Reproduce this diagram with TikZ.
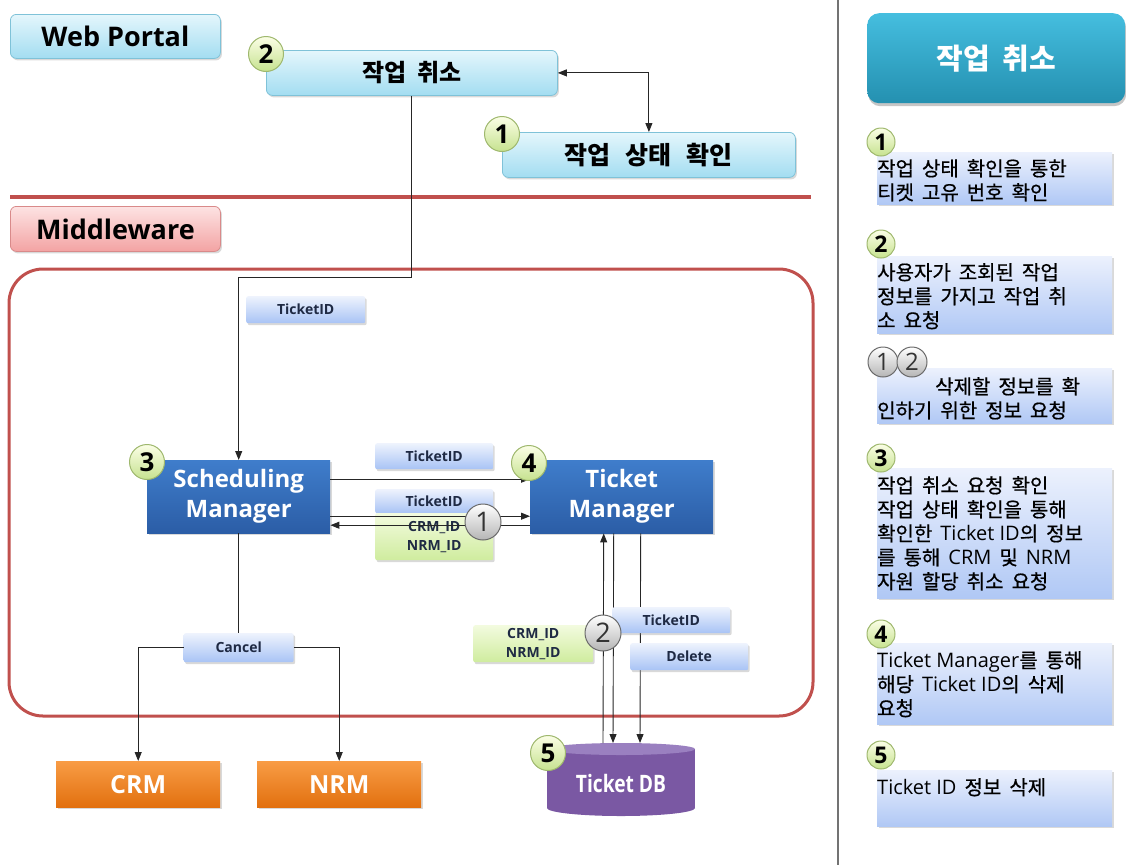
\documentclass[tikz,border=0pt]{standalone}
\usepackage{fontspec}
\setmainfont{Open Sans}
\newfontfamily\krf{Noto Sans CJK KR}
\newfontfamily\krm{Noto Sans CJK KR}[FakeBold=0.6]
\newfontfamily\dbf{Open Sans}[FakeStretch=0.8]
\usetikzlibrary{shadows,arrows.meta}

% Korean text with wider word spaces
\newcommand\kor{\krf\spaceskip=0.45em plus 0.1em\relax}
\newcommand\korwide{\krf\spaceskip=0.6em plus 0.1em\relax}
\newcommand\korstep{\krm\spaceskip=0.4em plus 0.1em\relax}
% Latin words inside Korean lines
\newcommand\latn[1]{{\rmfamily\spaceskip=0pt\relax #1}}

\definecolor{webtop}{HTML}{E4F6FC}
\definecolor{webbot}{HTML}{A3DDF1}
\definecolor{webline}{HTML}{7FC2D8}
\definecolor{mwtop}{HTML}{FDE3E3}
\definecolor{mwbot}{HTML}{F3A3A3}
\definecolor{mwline}{HTML}{D98A8A}
\definecolor{redline}{HTML}{C0504D}
\definecolor{mgrtop}{HTML}{3F7DCB}
\definecolor{mgrbot}{HTML}{2B5DA6}
\definecolor{msgtop}{HTML}{EEF3FD}
\definecolor{msgbot}{HTML}{A8C3F5}
\definecolor{msgtext}{HTML}{1F2A44}
\definecolor{idtop}{HTML}{F3FBDF}
\definecolor{idbot}{HTML}{CFEC9E}
\definecolor{orgtop}{HTML}{F89C45}
\definecolor{orgbot}{HTML}{E2700F}
\definecolor{dbbody}{HTML}{7A58A3}
\definecolor{dbcap}{HTML}{9A80C0}
\definecolor{hdtop}{HTML}{45BEDF}
\definecolor{hdbot}{HTML}{2490B0}
\definecolor{steptop}{HTML}{ECF1FD}
\definecolor{stepbot}{HTML}{B0C8F5}
\definecolor{numtop}{HTML}{FBFEE6}
\definecolor{numbot}{HTML}{C6E28F}
\definecolor{numline}{HTML}{9FB86E}
\definecolor{ghostbot}{HTML}{B5B5B5}
\definecolor{ghostline}{HTML}{6A6A6A}

\begin{document}
\begin{tikzpicture}[x=1pt,y=-1pt,
  softshadow/.style={drop shadow={opacity=0.3,shadow xshift=1.5pt,shadow yshift=-2pt}},
  tierbox/.style={anchor=north west, rounded corners=6pt, line width=0.8pt, inner sep=0pt,
    softshadow, font=\fontsize{27}{30}\selectfont\bfseries},
  webbox/.style={tierbox, draw=webline, top color=webtop, bottom color=webbot},
  mwbox/.style={tierbox, draw=mwline, top color=mwtop, bottom color=mwbot},
  pagebox/.style={anchor=north west, rounded corners=6pt, draw=webline, line width=0.8pt,
    inner sep=0pt, top color=webtop, bottom color=webbot, softshadow},
  mgrbox/.style={anchor=north west, top color=mgrtop, bottom color=mgrbot, softshadow,
    align=center, text=white, font=\fontsize{24}{30}\selectfont\bfseries,
    minimum width=183pt, minimum height=73pt, inner sep=0pt},
  sysbox/.style={anchor=north west, top color=orgtop, bottom color=orgbot, softshadow,
    text=white, font=\fontsize{25}{28}\selectfont\bfseries,
    minimum width=164pt, minimum height=46pt, inner sep=0pt},
  msg/.style={anchor=north west, rounded corners=2pt, top color=msgtop, bottom color=msgbot,
    softshadow, text=msgtext, font=\fontsize{14}{19}\selectfont\bfseries, inner sep=0pt,
    align=center},
  idmsg/.style={msg, top color=idtop, bottom color=idbot},
  num/.style={circle, draw=numline, line width=1pt, top color=numtop, bottom color=numbot,
    inner sep=0pt, minimum size=35pt, font=\fontsize{26}{26}\selectfont\bfseries},
  snum/.style={num, minimum size=28pt, font=\fontsize{23}{23}\selectfont\bfseries},
  ghost/.style={circle, draw=ghostline, line width=1pt, top color=white, bottom color=ghostbot,
    inner sep=0pt, minimum size=36pt, text=black!80, font=\fontsize{27}{27}\selectfont},
  sghost/.style={ghost, minimum size=30pt, font=\fontsize{24}{24}\selectfont},
  wire/.style={draw=black!85, line width=0.9pt},
  arrowed/.style={wire, -{Triangle[length=9pt,width=7pt]}},
  twoway/.style={wire, {Triangle[length=9pt,width=7pt]}-{Triangle[length=9pt,width=7pt]}},
  zoneframe/.style={draw=redline, line width=3pt, rounded corners=34pt},
  divider/.style={draw=redline, line width=3.5pt},
  header/.style={anchor=north west, rounded corners=12pt, top color=hdtop, bottom color=hdbot,
    minimum width=258pt, minimum height=90pt, inner sep=0pt, text=white,
    font=\fontsize{29}{32}\selectfont\bfseries\kor,
    drop shadow={opacity=0.45,shadow xshift=1pt,shadow yshift=-3pt}},
  stepbox/.style={anchor=north west, minimum width=235pt, inner sep=0pt,
    top color=steptop, bottom color=stepbot, softshadow},
  steptext/.style={anchor=north west, align=left, inner sep=0pt,
    font=\fontsize{20}{24}\selectfont\korstep},
]
\useasboundingbox (0,0) rectangle (1126,865);

% ---------- tiers ----------
\node[webbox, minimum width=210pt, minimum height=44pt] (web) at (10,14) {Web Portal};
\node[mwbox, minimum width=210pt, minimum height=45pt] (mw) at (10,206) {Middleware};
\draw[divider] (10,197) -- (811,197);
\draw[zoneframe] (9,269) rectangle (813,716);
\draw[line width=1.2pt, black!55] (838,0) -- (838,865);

% ---------- web portal pages ----------
\node[pagebox, minimum width=291pt, minimum height=45pt,
      font=\fontsize{24}{28}\selectfont\bfseries\kor] (cancel) at (266,50) {작업 취소};
\node[pagebox, minimum width=293pt, minimum height=45pt,
      font=\fontsize{25}{28}\selectfont\bfseries\korwide] (status) at (502,132) {작업 상태 확인};
\node[num] (n2) at (266,54) {2};
\node[num] (n1) at (502,134) {1};
\draw[twoway] (cancel.east) -| (status.north);

% ---------- middleware ----------
\node[msg, minimum width=119pt, minimum height=27pt] (idtop) at (246,296) {TicketID};

\node[mgrbox] (sm) at (147,460) {Scheduling\\Manager};
\node[mgrbox] (tm) at (530,460) {Ticket\\Manager};

\draw[arrowed] (cancel.south) -- ++(0,182) -| (sm.north);

\node[msg, minimum width=118pt, minimum height=26pt] (idreq) at (375,443) {TicketID};
\node[msg, minimum width=118pt, minimum height=24pt] (idask) at (375,489) {TicketID};
\node[idmsg, minimum width=118pt, minimum height=47pt] (resid) at (375,513) {CRM\_ID\\NRM\_ID};

\draw[arrowed] ([yshift=17.5pt]sm.east) -- ([yshift=17.5pt]tm.west);
\draw[arrowed] ([yshift=-19.5pt]sm.east) -- ([yshift=-19.5pt]tm.west);
\draw[arrowed] ([yshift=-28.5pt]tm.west) -- ([yshift=-28.5pt]sm.east);
\node[ghost] (g1) at (483,522) {1};

\node[num] (n3) at (147,462) {3};
\node[num] (n4) at (529,463) {4};

% cancel request to the resource managers
\node[msg, minimum width=110pt, minimum height=29pt] (cxl) at (183.5,633) {Cancel};
\draw[wire] (sm.south) -- (cxl.north);
\node[sysbox] (crm) at (56,761) {CRM};
\node[sysbox] (nrm) at (257,761) {NRM};
\draw[arrowed] (cxl.west) -| (crm.north);
\draw[arrowed] (cxl.east) -| (nrm.north);

% ---------- ticket database ----------
\fill[dbbody] (547,749) rectangle (695,808);
\fill[dbbody] (621,808) ellipse [x radius=74, y radius=8];
\fill[dbcap] (621,749) ellipse [x radius=74, y radius=6];
\coordinate (dbtop) at (621,743);
\node[text=white, font=\dbf\bfseries\fontsize{24}{26}\selectfont] (db) at (621,783) {Ticket DB};

\draw[arrowed] ([xshift=-18pt]dbtop) -- ([xshift=-18pt]tm.south);
\draw[arrowed] ([xshift=-8pt]tm.south) -- ([xshift=-8pt]dbtop);
\draw[arrowed] ([xshift=19pt]tm.south) -- ([xshift=19pt]dbtop);

\node[msg, minimum width=118pt, minimum height=26pt] (iddel) at (612,607) {TicketID};
\node[msg, minimum width=118pt, minimum height=27pt] (del) at (630,643) {Delete};
\node[idmsg, minimum width=120pt, minimum height=37pt] (dbid) at (473,625) {CRM\_ID\\NRM\_ID};
\node[ghost] (g2) at (603,633) {2};
\node[num] (n5) at (548,753) {5};

% ---------- step panel ----------
\node[header] (hd) at (867,13) {작업 취소};

\node[stepbox, minimum height=52pt] (b1) at (877,152) {};
\node[stepbox, minimum height=77pt] (b2) at (877,256) {};
\node[stepbox, minimum height=55pt] (b12) at (877,368) {};
\node[stepbox, minimum height=130pt] (b3) at (877,468) {};
\node[stepbox, minimum height=81pt] (b4) at (877,643) {};
\node[stepbox, minimum height=56pt] (b5) at (877,770) {};

\node[steptext] (t1) at ([yshift=-7pt]b1.north west) {작업 상태 확인을 통한\\티켓 고유 번호 확인};
\node[steptext] (t2) at ([yshift=-7pt]b2.north west) {사용자가 조회된 작업\\정보를 가지고 작업 취\\소 요청};
\node[steptext] (t12) at ([yshift=-9pt]b12.north west) {\hspace*{58pt}삭제할 정보를 확\\인하기 위한 정보 요청};
\node[steptext] (t3) at ([yshift=-8pt]b3.north west) {작업 취소 요청 확인\\작업 상태 확인을 통해\\확인한 \latn{Ticket ID}의 정보\\를 통해 \latn{CRM} 및 \latn{NRM}\\자원 할당 취소 요청};
\node[steptext] (t4) at ([yshift=-8pt]b4.north west) {\latn{Ticket Manager}를 통해\\해당 \latn{Ticket ID}의 삭제\\요청};
\node[steptext] (t5) at ([yshift=-8pt]b5.north west) {\latn{Ticket ID} 정보 삭제};

\node[snum] (s1) at (881,142) {1};
\node[snum] (s2) at (881,244) {2};
\node[sghost] (sg1) at (883,362) {1};
\node[sghost] (sg2) at (912,362) {2};
\node[snum] (s3) at (881,458) {3};
\node[snum] (s4) at (881,634) {4};
\node[snum] (s5) at (881,755) {5};
\end{tikzpicture}
\end{document}
